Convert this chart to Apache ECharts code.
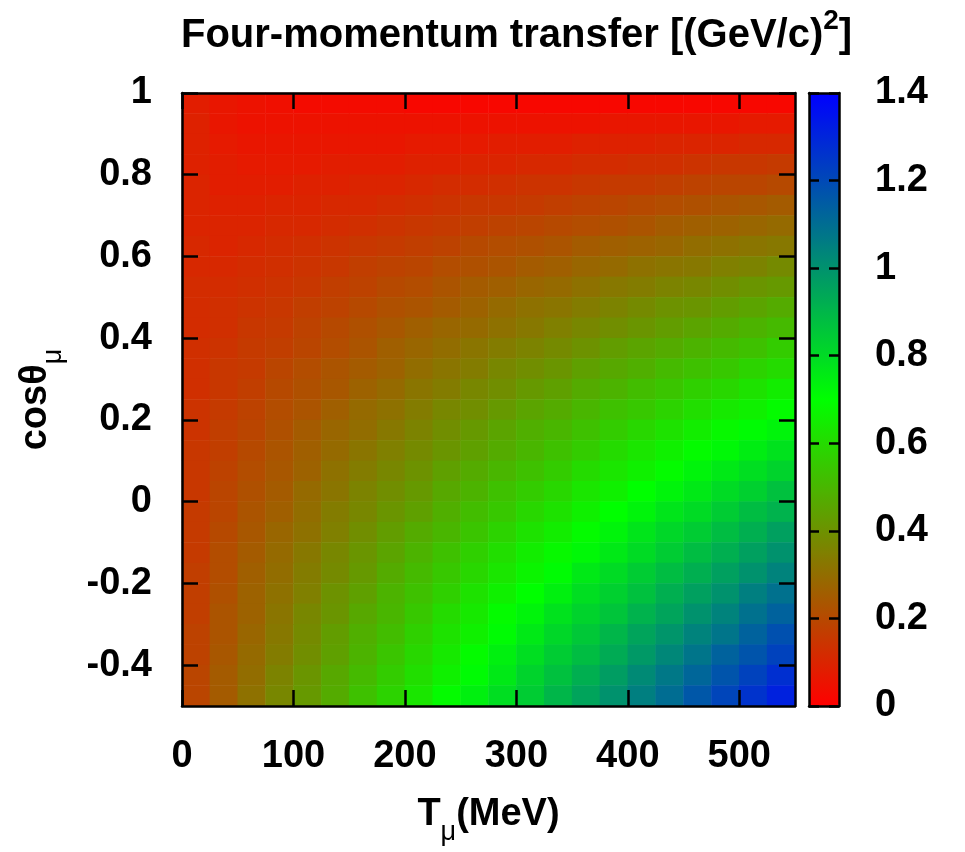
<!DOCTYPE html>
<html>
<head>
<meta charset="utf-8">
<title>Four-momentum transfer</title>
<script src="https://cdn.jsdelivr.net/npm/echarts@6/dist/echarts.min.js"></script>
<style>
  html, body { margin: 0; padding: 0; background: #ffffff; }
  #chart { width: 965px; height: 852px; }
</style>
</head>
<body>
<div id="chart"></div>
<script>
// Muon kinetic energy bins (MeV, bin centres) and cos(theta_mu) bins (top row first)
const tCenters = [12.5, 37.5, 62.5, 87.5, 112.5, 137.5, 162.5, 187.5, 212.5, 237.5, 262.5,
                  287.5, 312.5, 337.5, 362.5, 387.5, 412.5, 437.5, 462.5, 487.5, 512.5, 537.5];
const cosCenters = [0.975, 0.925, 0.875, 0.825, 0.775, 0.725, 0.675, 0.625, 0.575, 0.525,
                    0.475, 0.425, 0.375, 0.325, 0.275, 0.225, 0.175, 0.125, 0.075, 0.025,
                    -0.025, -0.075, -0.125, -0.175, -0.225, -0.275, -0.325, -0.375, -0.425, -0.475];

// Q^2 in (GeV/c)^2, one row per cos bin, one entry per T bin
const q2 = [
  [0.08,0.06,0.05,0.04,0.03,0.03,0.03,0.03,0.02,0.02,0.02,0.02,0.02,0.02,0.02,0.02,0.02,0.02,0.02,0.02,0.02,0.02],
  [0.09,0.06,0.05,0.05,0.05,0.05,0.05,0.05,0.05,0.05,0.05,0.05,0.05,0.05,0.05,0.06,0.06,0.06,0.06,0.06,0.07,0.07],
  [0.09,0.07,0.06,0.06,0.06,0.06,0.06,0.06,0.07,0.07,0.07,0.08,0.08,0.08,0.09,0.09,0.09,0.10,0.10,0.10,0.11,0.11],
  [0.09,0.08,0.07,0.07,0.07,0.08,0.08,0.08,0.09,0.09,0.10,0.10,0.11,0.11,0.12,0.12,0.13,0.13,0.14,0.15,0.15,0.16],
  [0.10,0.08,0.08,0.08,0.09,0.09,0.10,0.10,0.11,0.12,0.12,0.13,0.14,0.14,0.15,0.16,0.16,0.17,0.18,0.19,0.19,0.20],
  [0.10,0.09,0.09,0.10,0.10,0.11,0.11,0.12,0.13,0.14,0.15,0.15,0.16,0.17,0.18,0.19,0.20,0.21,0.22,0.23,0.24,0.25],
  [0.10,0.10,0.10,0.11,0.11,0.12,0.13,0.14,0.15,0.16,0.17,0.18,0.19,0.20,0.21,0.22,0.23,0.25,0.26,0.27,0.28,0.29],
  [0.11,0.10,0.11,0.12,0.13,0.14,0.15,0.16,0.17,0.18,0.20,0.21,0.22,0.23,0.25,0.26,0.27,0.28,0.30,0.31,0.32,0.33],
  [0.11,0.11,0.12,0.13,0.14,0.15,0.17,0.18,0.19,0.21,0.22,0.23,0.25,0.26,0.28,0.29,0.31,0.32,0.33,0.35,0.36,0.38],
  [0.12,0.12,0.13,0.14,0.15,0.17,0.18,0.20,0.21,0.23,0.25,0.26,0.28,0.29,0.31,0.33,0.34,0.36,0.37,0.39,0.41,0.42],
  [0.12,0.13,0.14,0.15,0.17,0.18,0.20,0.22,0.23,0.25,0.27,0.29,0.31,0.32,0.34,0.36,0.38,0.40,0.41,0.43,0.45,0.47],
  [0.12,0.13,0.15,0.16,0.18,0.20,0.22,0.24,0.26,0.28,0.29,0.31,0.33,0.35,0.37,0.39,0.41,0.43,0.45,0.47,0.49,0.51],
  [0.13,0.14,0.16,0.17,0.19,0.21,0.23,0.26,0.28,0.30,0.32,0.34,0.36,0.38,0.40,0.43,0.45,0.47,0.49,0.51,0.53,0.56],
  [0.13,0.15,0.16,0.19,0.21,0.23,0.25,0.27,0.30,0.32,0.34,0.37,0.39,0.41,0.44,0.46,0.48,0.51,0.53,0.55,0.58,0.60],
  [0.13,0.15,0.17,0.20,0.22,0.24,0.27,0.29,0.32,0.34,0.37,0.39,0.42,0.44,0.47,0.49,0.52,0.54,0.57,0.59,0.62,0.65],
  [0.14,0.16,0.18,0.21,0.23,0.26,0.29,0.31,0.34,0.37,0.39,0.42,0.45,0.47,0.50,0.53,0.55,0.58,0.61,0.64,0.66,0.69],
  [0.14,0.17,0.19,0.22,0.25,0.28,0.30,0.33,0.36,0.39,0.42,0.45,0.48,0.50,0.53,0.56,0.59,0.62,0.65,0.68,0.71,0.73],
  [0.15,0.17,0.20,0.23,0.26,0.29,0.32,0.35,0.38,0.41,0.44,0.47,0.50,0.53,0.56,0.60,0.63,0.66,0.69,0.72,0.75,0.78],
  [0.15,0.18,0.21,0.24,0.27,0.31,0.34,0.37,0.40,0.44,0.47,0.50,0.53,0.56,0.60,0.63,0.66,0.69,0.73,0.76,0.79,0.82],
  [0.15,0.19,0.22,0.25,0.29,0.32,0.36,0.39,0.42,0.46,0.49,0.53,0.56,0.59,0.63,0.66,0.70,0.73,0.76,0.80,0.83,0.87],
  [0.16,0.19,0.23,0.26,0.30,0.34,0.37,0.41,0.44,0.48,0.52,0.55,0.59,0.62,0.66,0.70,0.73,0.77,0.80,0.84,0.88,0.91],
  [0.16,0.20,0.24,0.28,0.31,0.35,0.39,0.43,0.47,0.50,0.54,0.58,0.62,0.65,0.69,0.73,0.77,0.81,0.84,0.88,0.92,0.96],
  [0.16,0.21,0.25,0.29,0.33,0.37,0.41,0.45,0.49,0.53,0.57,0.61,0.65,0.68,0.72,0.76,0.80,0.84,0.88,0.92,0.96,1.00],
  [0.17,0.21,0.26,0.30,0.34,0.38,0.42,0.47,0.51,0.55,0.59,0.63,0.67,0.71,0.76,0.80,0.84,0.88,0.92,0.96,1.00,1.04],
  [0.17,0.22,0.27,0.31,0.35,0.40,0.44,0.49,0.53,0.57,0.62,0.66,0.70,0.74,0.79,0.83,0.87,0.92,0.96,1.00,1.05,1.09],
  [0.17,0.23,0.27,0.32,0.37,0.41,0.46,0.50,0.55,0.60,0.64,0.69,0.73,0.78,0.82,0.86,0.91,0.95,1.00,1.04,1.09,1.13],
  [0.18,0.23,0.28,0.33,0.38,0.43,0.48,0.52,0.57,0.62,0.66,0.71,0.76,0.81,0.85,0.90,0.95,0.99,1.04,1.08,1.13,1.18],
  [0.18,0.24,0.29,0.34,0.39,0.44,0.49,0.54,0.59,0.64,0.69,0.74,0.79,0.84,0.88,0.93,0.98,1.03,1.08,1.13,1.17,1.22],
  [0.19,0.25,0.30,0.36,0.41,0.46,0.51,0.56,0.61,0.66,0.71,0.76,0.82,0.87,0.92,0.97,1.02,1.07,1.12,1.17,1.22,1.27],
  [0.19,0.25,0.31,0.37,0.42,0.47,0.53,0.58,0.63,0.69,0.74,0.79,0.84,0.90,0.95,1.00,1.05,1.10,1.16,1.21,1.26,1.31]
];

// Tick positions
const xTicks = [0, 100, 200, 300, 400, 500];
const yTicks = [-0.4, -0.2, 0, 0.2, 0.4, 0.6, 0.8, 1];
const barTicks = [0, 0.2, 0.4, 0.6, 0.8, 1, 1.2, 1.4];
const paletteColors = ['#ff0000', '#00ff00', '#0000ff'];

const FONT = '"Liberation Sans", Arial, Helvetica, sans-serif';
const labelStyle = { fontFamily: FONT, fontSize: 38, fontWeight: 'bold', color: '#000' };
const frameLine = { show: true, onZero: false, lineStyle: { color: '#000', width: 2.5 } };
const noLine = { show: false };

const heatData = [];
q2.forEach((row, r) => row.forEach((v, c) => heatData.push([c, r, v])));

const chart = echarts.init(document.getElementById('chart'), null, { renderer: 'canvas' });

chart.setOption({
  animation: false,
  backgroundColor: '#ffffff',
  title: {
    text: '{a|Four-momentum transfer [(GeV/c)}{s|2}{a|]}',
    left: 176,
    top: 2,
    textStyle: {
      rich: {
        a: { fontFamily: FONT, fontSize: 40, fontWeight: 'bold', color: '#000', padding: [9, 0, 0, 0] },
        s: { fontFamily: FONT, fontSize: 28, fontWeight: 'bold', color: '#000', verticalAlign: 'top' }
      }
    }
  },
  grid: [
    { left: 182, top: 93, width: 613, height: 613, containLabel: false },
    { left: 809, top: 93, width: 30, height: 613, containLabel: false }
  ],
  visualMap: {
    type: 'continuous',
    seriesIndex: 0,
    min: 0,
    max: 1.4,
    orient: 'vertical',
    left: 809,
    top: 93,
    itemWidth: 30,
    itemHeight: 613,
    padding: 0,
    calculable: false,
    hoverLink: false,
    text: null,
    showLabel: false,
    inRange: { color: paletteColors }
  },
  xAxis: [
    { type: 'category', gridIndex: 0, data: tCenters.map(String), show: false, position: 'bottom' },
    {
      type: 'value', gridIndex: 0, min: 0, max: 550, position: 'bottom', z: 10,
      axisLine: frameLine,
      axisTick: { inside: true, length: 16, customValues: xTicks, lineStyle: { color: '#000', width: 2.5 } },
      axisLabel: Object.assign({ customValues: xTicks, margin: 32 }, labelStyle),
      splitLine: { show: false },
      name: '{a|T}{s|μ}{a|(MeV)}',
      nameLocation: 'middle',
      nameGap: 90,
      nameTextStyle: {
        rich: {
          a: { fontFamily: FONT, fontSize: 38, fontWeight: 'bold', color: '#000', padding: [0, 0, 12, 0] },
          s: { fontFamily: FONT, fontSize: 27, color: '#000', verticalAlign: 'bottom' }
        }
      }
    },
    {
      type: 'value', gridIndex: 0, min: 0, max: 550, position: 'top', z: 10,
      axisLine: frameLine,
      axisTick: { inside: true, length: 16, customValues: xTicks, lineStyle: { color: '#000', width: 2.5 } },
      axisLabel: { show: false },
      splitLine: { show: false }
    },
    {
      type: 'value', gridIndex: 1, min: 0, max: 1, position: 'bottom', z: 10,
      axisLine: frameLine, axisTick: noLine, axisLabel: { show: false }, splitLine: { show: false }
    },
    {
      type: 'value', gridIndex: 1, min: 0, max: 1, position: 'top', z: 10,
      axisLine: frameLine, axisTick: noLine, axisLabel: { show: false }, splitLine: { show: false }
    }
  ],
  yAxis: [
    { type: 'category', gridIndex: 0, data: cosCenters.map(String), inverse: true, show: false, position: 'left' },
    {
      type: 'value', gridIndex: 0, min: -0.5, max: 1, position: 'left', z: 10,
      axisLine: frameLine,
      axisTick: { inside: true, length: 16, customValues: yTicks, lineStyle: { color: '#000', width: 2.5 } },
      axisLabel: Object.assign({ customValues: yTicks, margin: 30 }, labelStyle),
      splitLine: { show: false },
      name: '{a|cosθ}{s|μ}',
      nameLocation: 'middle',
      nameRotate: 90,
      nameGap: 115,
      nameTextStyle: {
        rich: {
          a: { fontFamily: FONT, fontSize: 38, fontWeight: 'bold', color: '#000', padding: [0, 0, 12, 0] },
          s: { fontFamily: FONT, fontSize: 27, color: '#000', verticalAlign: 'bottom' }
        }
      }
    },
    {
      type: 'value', gridIndex: 0, min: -0.5, max: 1, position: 'right', z: 10,
      axisLine: frameLine,
      axisTick: { inside: true, length: 16, customValues: yTicks, lineStyle: { color: '#000', width: 2.5 } },
      axisLabel: { show: false },
      splitLine: { show: false }
    },
    {
      type: 'value', gridIndex: 1, min: 0, max: 1.4, position: 'right', z: 10,
      axisLine: frameLine,
      axisTick: { inside: true, length: 10, customValues: barTicks, lineStyle: { color: '#000', width: 2.5 } },
      axisLabel: Object.assign({ customValues: barTicks, margin: 36, formatter: v => String(+v.toFixed(1)) }, labelStyle),
      splitLine: { show: false }
    },
    {
      type: 'value', gridIndex: 1, min: 0, max: 1.4, position: 'left', z: 10,
      axisLine: frameLine,
      axisTick: { inside: true, length: 10, customValues: barTicks, lineStyle: { color: '#000', width: 2.5 } },
      axisLabel: { show: false },
      splitLine: { show: false }
    }
  ],
  series: [
    {
      type: 'heatmap',
      xAxisIndex: 0,
      yAxisIndex: 0,
      data: heatData,
      progressive: 0,
      itemStyle: { borderWidth: 0 },
      emphasis: { disabled: true }
    }
  ]
});
</script>
</body>
</html>
